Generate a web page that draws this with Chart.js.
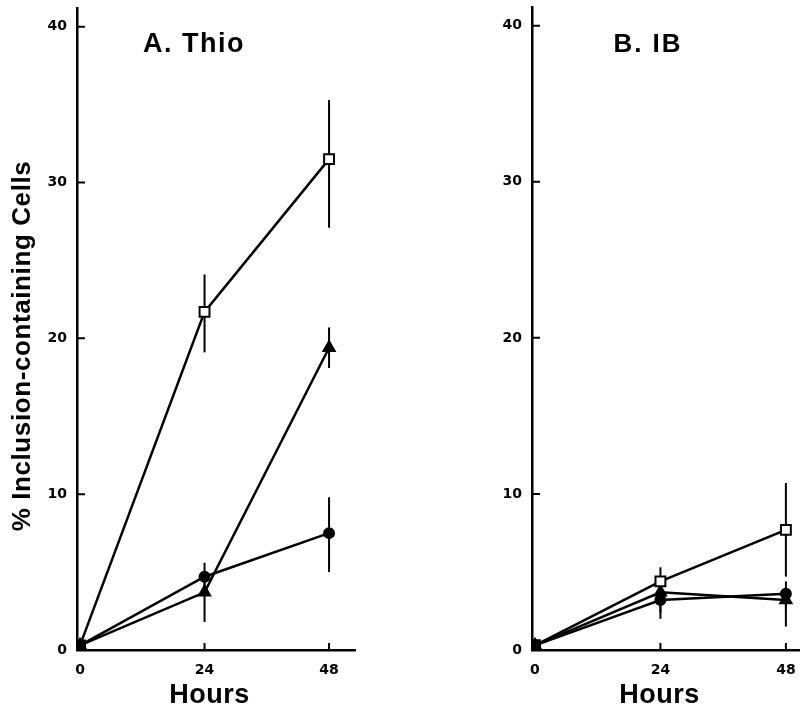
<!DOCTYPE html>
<html>
<head>
<meta charset="utf-8">
<script src="https://cdn.jsdelivr.net/npm/chart.js@4/dist/chart.umd.min.js"></script>
<style>
  html, body { margin: 0; padding: 0; background: #fff; }
  #wrap { position: relative; width: 800px; height: 708px; overflow: hidden; }
  canvas { position: absolute; top: 0; }
  #thio { left: 0; }
  #ib { left: 400px; }
</style>
</head>
<body>
<div id="wrap">
  <canvas id="thio" width="400" height="708"></canvas>
  <canvas id="ib" width="400" height="708"></canvas>
</div>
<script>
// shared axes
const hours  = [0, 24, 48];
const yTicks = [0, 10, 20, 30, 40];

// A. Thio (% inclusion-containing cells)
const thioSquare    = [0.3, 21.7, 31.5];
const thioSquareLo  = [null, 19.1, 27.1];
const thioSquareHi  = [null, 24.1, 35.3];
const thioTriangle   = [0.3, 3.7, 19.4];
const thioTriangleLo = [null, 1.8, 18.1];
const thioTriangleHi = [null, 4.6, 20.7];
const thioCircle    = [0.3, 4.7, 7.5];
const thioCircleLo  = [null, 3.9, 5.0];
const thioCircleHi  = [null, 5.6, 9.8];

// B. IB
const ibSquare    = [0.3, 4.4, 7.7];
const ibSquareLo  = [null, 3.6, 4.7];
const ibSquareHi  = [null, 5.3, 10.7];
const ibTriangle   = [0.3, 3.7, 3.2];
const ibTriangleLo = [null, 2.0, 1.5];
const ibTriangleHi = [null, 4.4, 4.0];
const ibCircle    = [0.3, 3.2, 3.6];
const ibCircleLo  = [null, 2.4, 2.6];
const ibCircleHi  = [null, 3.9, 4.4];

Chart.defaults.font.family = '"DejaVu Sans", "Liberation Sans", Arial, sans-serif';
Chart.defaults.color = '#000';

function series(vals, lo, hi, style) {
  const base = {
    data: hours.map((h, i) => ({ x: h, y: vals[i] })),
    errLo: lo,
    errHi: hi,
    showLine: true,
    borderColor: '#000',
    borderWidth: 2.5,
    pointBorderColor: '#000',
    pointBorderWidth: 2,
  };
  if (style === 'square') {
    return { ...base, pointStyle: 'rect', pointRadius: 7,
             pointBackgroundColor: ['#000', '#fff', '#fff'] };
  }
  if (style === 'triangle') {
    return { ...base, pointStyle: 'triangle', pointRadius: 6.5, pointBackgroundColor: '#000' };
  }
  return { ...base, pointStyle: 'circle', pointRadius: 5, pointBackgroundColor: '#000' };
}

// vertical error bars, drawn under the markers
const errorBars = {
  id: 'errorBars',
  beforeDatasetsDraw(chart) {
    const { ctx, scales: { x, y } } = chart;
    ctx.save();
    ctx.strokeStyle = '#000';
    ctx.lineWidth = 2;
    chart.data.datasets.forEach(ds => {
      hours.forEach((h, i) => {
        if (ds.errLo[i] == null) return;
        const px = x.getPixelForValue(h);
        ctx.beginPath();
        ctx.moveTo(px, y.getPixelForValue(ds.errLo[i]));
        ctx.lineTo(px, y.getPixelForValue(ds.errHi[i]));
        ctx.stroke();
      });
    });
    ctx.restore();
  }
};

// tick marks pointing into the plot, plus the panel texts
const decor = {
  id: 'decor',
  afterDraw(chart, args, opts) {
    const { ctx, scales: { x, y }, chartArea: a } = chart;
    ctx.save();
    ctx.strokeStyle = '#000';
    ctx.lineWidth = 2;
    ctx.beginPath();
    y.ticks.forEach(t => {
      if (t.value === 0) return;
      const py = y.getPixelForValue(t.value);
      ctx.moveTo(a.left, py);
      ctx.lineTo(a.left + 8, py);
    });
    x.ticks.forEach(t => {
      if (t.value === 0) return;
      const px = x.getPixelForValue(t.value);
      ctx.moveTo(px, a.bottom);
      ctx.lineTo(px, a.bottom - 7);
    });
    ctx.stroke();

    ctx.fillStyle = '#000';
    ctx.textAlign = 'center';
    ctx.textBaseline = 'alphabetic';
    ctx.letterSpacing = opts.titleSpacing;
    ctx.font = 'bold ' + opts.titleSize + 'px "Liberation Sans", Arial, sans-serif';
    ctx.fillText(opts.title, opts.titleX, 52);

    ctx.letterSpacing = '0.5px';
    ctx.font = 'bold 27px "Liberation Sans", Arial, sans-serif';
    ctx.fillText('Hours', x.getPixelForValue(24) + opts.hoursShift, 703);

    if (opts.yTitle) {
      ctx.translate(23, 346);
      ctx.rotate(-Math.PI / 2);
      ctx.textBaseline = 'middle';
      ctx.letterSpacing = '0.6px';
      ctx.font = 'bold 26px "Liberation Sans", Arial, sans-serif';
      ctx.fillText(opts.yTitle, 0, 0);
    }
    ctx.restore();
  }
};

// the axes keep the exact box asked for: no extra room for edge labels
function noEdgePadding(s) {
  s.paddingTop = 0;
  s.paddingBottom = 0;
  s.paddingLeft = 0;
  s.paddingRight = 0;
}

function makePanel(canvasId, datasets, cfg) {
  return new Chart(document.getElementById(canvasId), {
    type: 'scatter',
    data: { datasets },
    options: {
      responsive: false,
      animation: false,
      devicePixelRatio: 1,
      layout: { autoPadding: false, padding: { top: cfg.top, right: cfg.right, left: 0, bottom: 0 } },
      plugins: {
        legend: { display: false },
        tooltip: { enabled: false },
        decor: { title: cfg.title, titleX: cfg.titleX, titleSize: cfg.titleSize,
                 titleSpacing: cfg.titleSpacing, yTitle: cfg.yTitle, hoursShift: cfg.hoursShift },
      },
      scales: {
        x: {
          type: 'linear',
          min: cfg.xMin,
          max: cfg.xMax,
          afterBuildTicks: s => { s.ticks = hours.map(v => ({ value: v })); },
          afterFit: s => { s.height = 58; noEdgePadding(s); },
          grid: { display: false, drawTicks: false },
          border: { display: true, color: '#000', width: 2.5 },
          ticks: { color: '#000', padding: 12, font: { size: 14, weight: 'bold' } },
        },
        y: {
          min: 0,
          max: 41.2,
          afterBuildTicks: s => { s.ticks = yTicks.map(v => ({ value: v })); },
          afterFit: s => { s.width = cfg.yWidth; noEdgePadding(s); },
          grid: { display: false, drawTicks: false },
          border: { display: true, color: '#000', width: 2.5 },
          ticks: { color: '#000', padding: 10, font: { size: 14, weight: 'bold' } },
        },
      },
    },
    plugins: [errorBars, decor],
  });
}

makePanel('thio', [
  series(thioSquare, thioSquareLo, thioSquareHi, 'square'),
  series(thioTriangle, thioTriangleLo, thioTriangleHi, 'triangle'),
  series(thioCircle, thioCircleLo, thioCircleHi, 'circle'),
], { top: 8, right: 45, yWidth: 77, xMin: -0.58, xMax: 53.0,
     title: 'A. Thio', titleX: 194, titleSize: 27, titleSpacing: '1.5px',
     yTitle: '% Inclusion-containing Cells', hoursShift: 5 });

makePanel('ib', [
  series(ibSquare, ibSquareLo, ibSquareHi, 'square'),
  series(ibTriangle, ibTriangleLo, ibTriangleHi, 'triangle'),
  series(ibCircle, ibCircleLo, ibCircleHi, 'circle'),
], { top: 7, right: 0, yWidth: 132, xMin: -0.57, xMax: 50.7,
     title: 'B. IB', titleX: 248, titleSize: 26, titleSpacing: '2px', hoursShift: -1 });
</script>
</body>
</html>
